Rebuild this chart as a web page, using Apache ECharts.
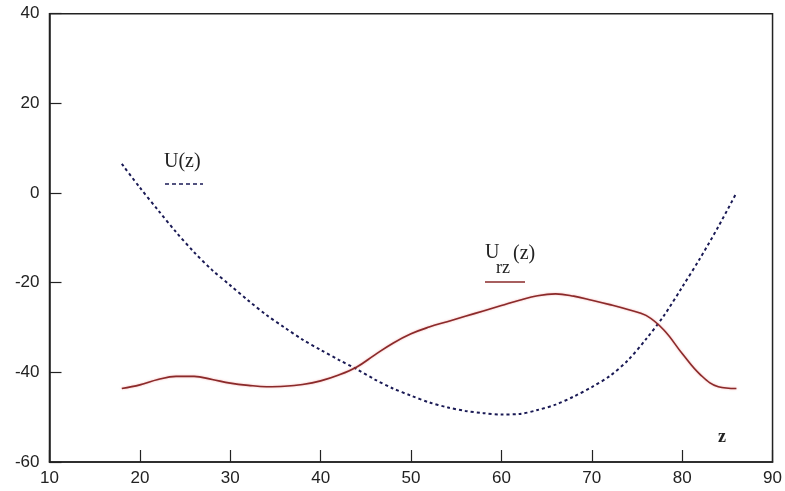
<!DOCTYPE html>
<html>
<head>
<meta charset="utf-8">
<script src="https://cdn.jsdelivr.net/npm/echarts@6/dist/echarts.min.js"></script>
<style>
html,body{margin:0;padding:0;background:#fff;}
#chart{width:785px;height:491px;}
</style>
</head>
<body>
<div id="chart"></div>
<script>
// z positions (x axis)
var zValues = [18,20,22,24,26,28,30,32,34,36,38,40,42,44,46,48,50,52,54,56,58,60,62,64,66,68,70,72,74,76,78,80,82,84,86];
// U(z) values (dotted curve)
var uValues = [6.5,1.2,-3.8,-8.7,-13.2,-17.2,-20.6,-24.0,-27.2,-30.0,-32.7,-35.0,-37.2,-39.3,-41.6,-43.6,-45.2,-46.7,-47.8,-48.6,-49.1,-49.4,-49.3,-48.4,-47.2,-45.4,-43.3,-40.8,-37.3,-32.6,-27.3,-21.0,-14.5,-7.5,0];
// Urz(z) values (solid red curve)
var urzValues = [-43.6,-42.8,-41.6,-40.9,-40.9,-41.6,-42.4,-42.9,-43.2,-43.1,-42.7,-41.9,-40.6,-38.8,-36.1,-33.5,-31.4,-29.9,-28.7,-27.5,-26.3,-25.1,-23.9,-22.9,-22.5,-23.0,-23.9,-24.9,-26.0,-27.3,-30.6,-35.8,-40.5,-43.2,-43.6];
// axis ticks
var xTicks = [10,20,30,40,50,60,70,80,90];
var yTicks = [-60,-40,-20,0,20,40];

function pairs(xs, ys){ return xs.map(function(x,i){ return [x, ys[i]]; }); }

var chart = echarts.init(document.getElementById('chart'), null, {renderer:'canvas'});
var axisFont = {color:'#222', fontFamily:'Liberation Sans, Arial, sans-serif', fontSize:17};
var serif = '"Liberation Serif", "Times New Roman", serif';
chart.setOption({
  animation:false,
  backgroundColor:'#fff',
  grid:{left:49.5, right:12, top:13.7, bottom:29, show:true, borderColor:'#222', borderWidth:1.5, backgroundColor:'transparent'},
  xAxis:{
    type:'value', min:xTicks[0], max:xTicks[xTicks.length-1], interval:10,
    axisLine:{show:true, onZero:false, lineStyle:{color:'#222', width:1.5}},
    axisTick:{show:true, inside:true, length:12, lineStyle:{color:'#222', width:1.2}},
    axisLabel:Object.assign({margin:8}, axisFont),
    splitLine:{show:false}
  },
  yAxis:{
    type:'value', min:yTicks[0], max:yTicks[yTicks.length-1], interval:20,
    axisLine:{show:true, onZero:false, lineStyle:{color:'#222', width:1.5}},
    axisTick:{show:true, inside:true, length:12, lineStyle:{color:'#222', width:1.2}},
    axisLabel:Object.assign({margin:10}, axisFont),
    splitLine:{show:false}
  },
  series:[
    {
      name:'U(z)', type:'line', data:pairs(zValues,uValues), smooth:0.3, showSymbol:false,
      lineStyle:{color:'#1a1a55', width:2, type:[3,3]}
    },
    {
      name:'Urz(z)', type:'line', data:pairs(zValues,urzValues), smooth:0.4, showSymbol:false,
      lineStyle:{color:'#8a2a2a', width:1.6, shadowColor:'rgba(230,80,80,0.5)', shadowBlur:2}
    }
  ],
  graphic:[
    {type:'text', x:164, y:152, style:{text:'U(z)', font:'20px ' + serif, fill:'#222'}},
    {type:'line', shape:{x1:165, y1:184, x2:203, y2:184}, style:{stroke:'#1a1a55', lineWidth:1.6, lineDash:[4,3]}},
    {type:'text', x:485, y:243, style:{text:'U', font:'20px ' + serif, fill:'#222'}},
    {type:'text', x:496, y:259, style:{text:'rz', font:'18px ' + serif, fill:'#222'}},
    {type:'text', x:513, y:244, style:{text:'(z)', font:'20px ' + serif, fill:'#222'}},
    {type:'line', shape:{x1:485, y1:282, x2:525, y2:282}, style:{stroke:'#8a2a2a', lineWidth:1.6}},
    {type:'text', x:718, y:428, style:{text:'z', font:'bold 18px ' + serif, fill:'#222'}}
  ]
});
</script>
</body>
</html>
